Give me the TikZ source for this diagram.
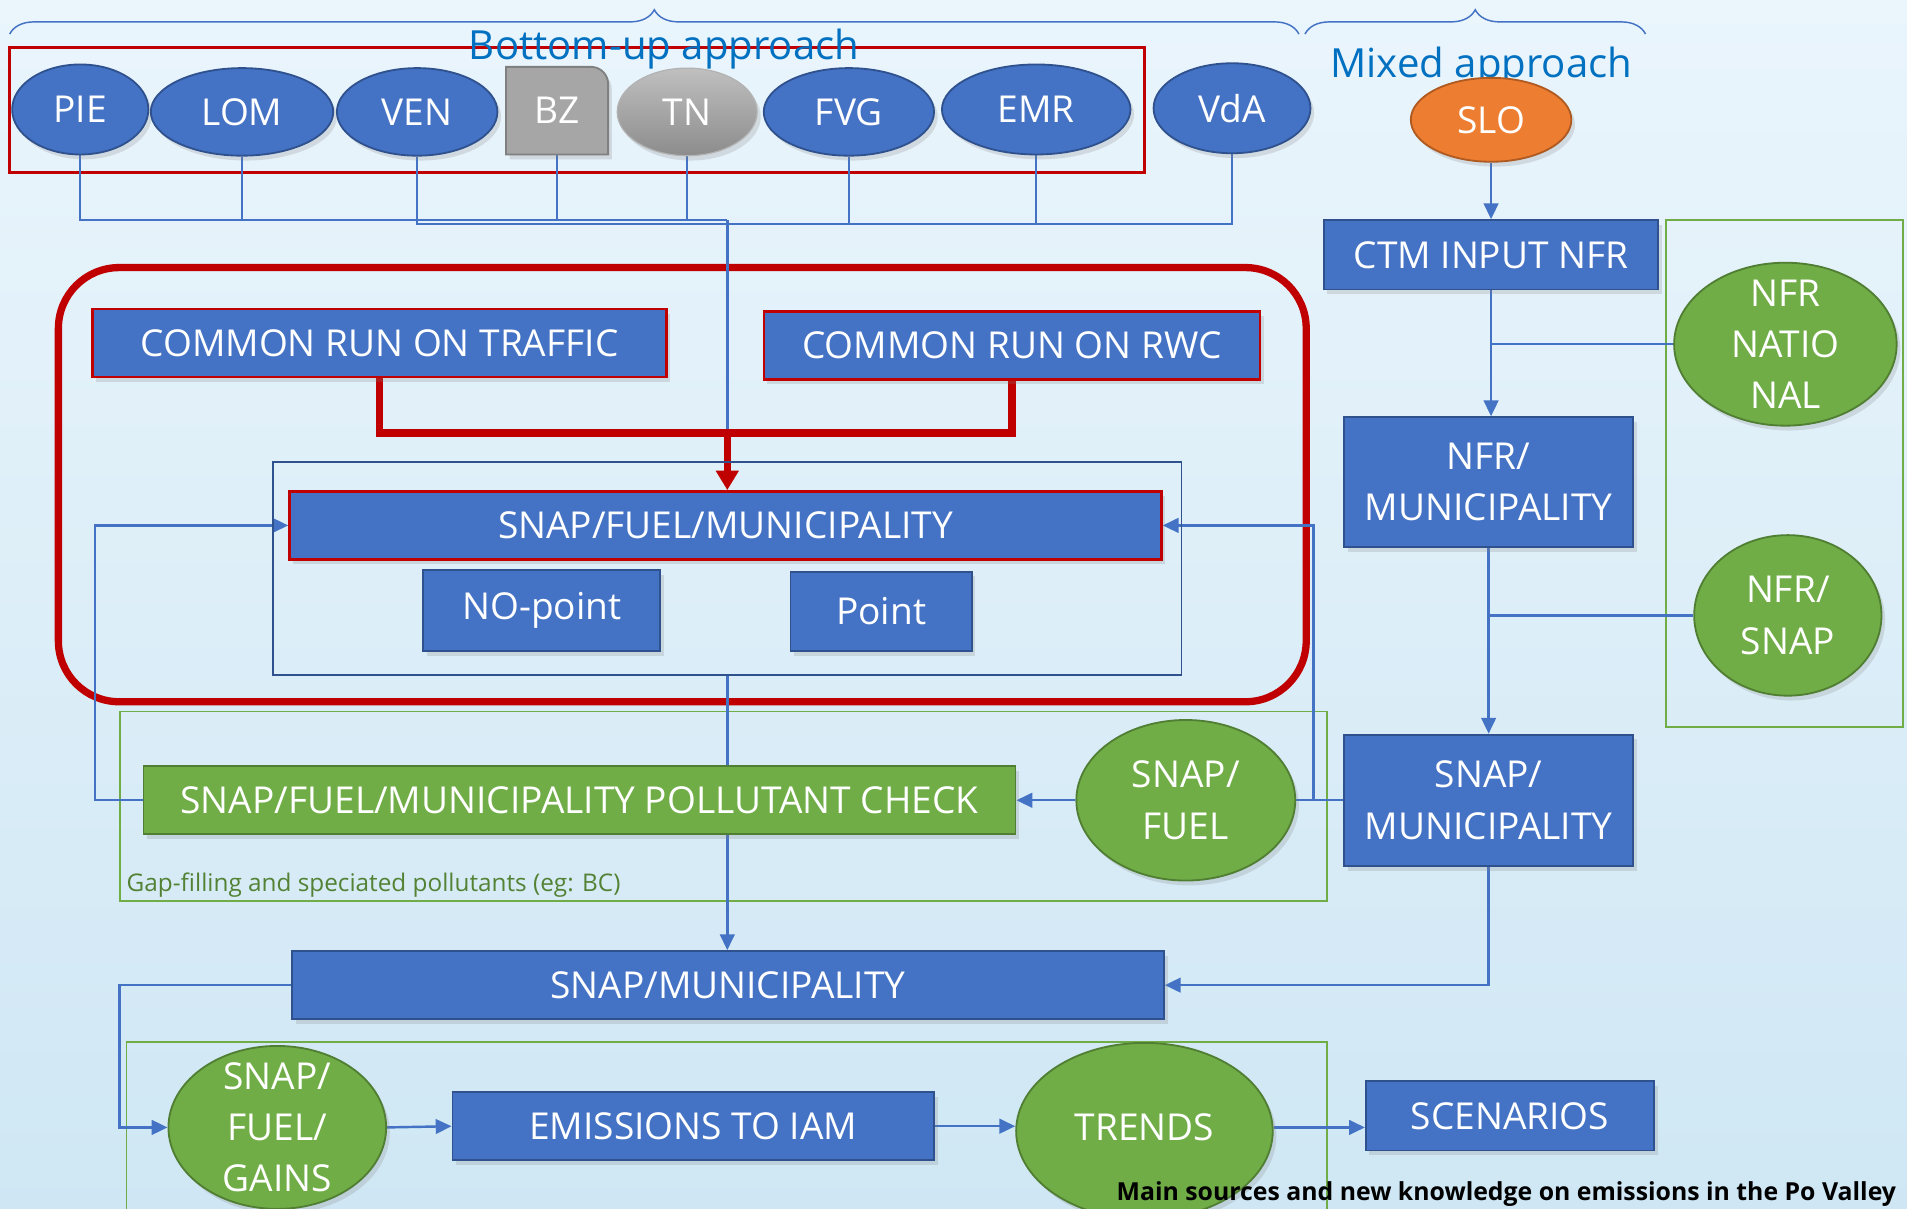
\documentclass[tikz,border=0pt]{standalone}
\usepackage{fontspec}
\setmainfont{Open Sans}
\usetikzlibrary{shapes.geometric, arrows.meta, shadows, decorations.pathreplacing, calc}
\definecolor{bfill}{HTML}{4472C4}
\definecolor{bdraw}{HTML}{2F528F}
\definecolor{gfill}{HTML}{70AD47}
\definecolor{gdraw}{HTML}{507E32}
\definecolor{dred}{HTML}{C00000}
\definecolor{ofill}{HTML}{ED7D31}
\definecolor{odraw}{HTML}{AE5A21}
\definecolor{ttl}{HTML}{0070C0}
\definecolor{gtxt}{HTML}{548235}
\definecolor{bgtop}{HTML}{EAF5FC}
\definecolor{bgbot}{HTML}{CFE7F4}
\pgfdeclarelayer{back}
\pgfdeclarelayer{lines}
\pgfsetlayers{back,lines,main}
\tikzset{
 shad/.style={drop shadow={shadow xshift=3pt, shadow yshift=-4pt, opacity=0.22}},
 box/.style={rectangle, fill=bfill, draw=bdraw, line width=1.5pt, text=white, inner sep=0pt, font=\fontsize{30.5}{42}\selectfont, align=center, shad},
 rbox/.style={box, draw=dred, line width=2pt},
 gbox/.style={box, fill=gfill, draw=gdraw},
 bell/.style={ellipse, fill=bfill, draw=bdraw, line width=1.5pt, inner sep=0pt, shad},
 gell/.style={bell, fill=gfill, draw=gdraw},
 oell/.style={bell, fill=ofill, draw=odraw},
 lbl/.style={text=white, inner sep=0pt, align=center, font=\fontsize{30.5}{42}\selectfont},
 conn/.style={draw=bfill, line width=2pt},
 arr/.style={conn, -{Triangle[length=13pt, width=12pt]}},
 redln/.style={draw=dred, line width=6pt},
 shln/.style={draw=black, opacity=0.3, line width=6pt, shift={(3,4)}},
 grp/.style={draw=gfill, line width=1.5pt},
 brc/.style={draw=bfill, line width=1.2pt, decorate, decoration={brace, amplitude=20pt}},
}
\begin{document}
\begin{tikzpicture}[x=1pt, y=-1pt]
\useasboundingbox (0,0) rectangle (1568,994);
\begin{pgfonlayer}{back}
\shade[top color=bgtop, bottom color=bgbot] (0,0) rectangle (1568,994);
\draw[grp] (99,585) rectangle (1091,741);
\draw[grp] (104,857) rectangle (1091,1010);
\draw[grp] (1370,181) rectangle (1565,598);
\draw[dred, line width=2.5pt] (8,39) rectangle (941,142);
\draw[dred, line width=6pt, rounded corners=50pt] (48,220) rectangle (1074,577);
\draw[brc] (8,28) -- (1068,28);
\draw[brc] (1073,28) -- (1353,28);
\end{pgfonlayer}

% top row
\node[bell, minimum width=112pt, minimum height=74pt] (pie) at (66,90) {};
\node[lbl] at (pie) {PIE};
\node[bell, minimum width=150pt, minimum height=72pt] (lom) at (199,92) {};
\node[lbl] at (lom) {LOM};
\node[bell, minimum width=132pt, minimum height=72pt] (ven) at (343,92) {};
\node[lbl] at (ven) {VEN};
\draw[fill=black!35, draw=black!50, line width=1.5pt, shad] (416,55) -- (486,55) arc[start angle=-90, end angle=0, radius=14] -- (500,127) -- (416,127) -- cycle;
\node[lbl, rectangle, minimum width=84pt, minimum height=72pt] (bz) at (458,91) {BZ};
\node[ellipse, inner sep=0pt, minimum width=115pt, minimum height=72pt, top color=black!25, bottom color=black!45, draw=black!30, line width=1pt, shad] (tn) at (565,92) {};
\node[lbl] at (tn) {TN};
\node[bell, minimum width=140pt, minimum height=72pt] (fvg) at (698,92) {};
\node[lbl] at (fvg) {FVG};
\node[bell, minimum width=155pt, minimum height=74pt] (emr) at (852,90) {};
\node[lbl] at (emr) {EMR};
\node[bell, minimum width=129pt, minimum height=74pt] (vda) at (1013,89) {};
\node[lbl] at (vda) {VdA};

\node[text=ttl, font=\fontsize{33}{40}\selectfont, inner sep=0pt, anchor=base] (bu) at (546,49) {Bottom-up approach};
\node[text=ttl, font=\fontsize{33}{40}\selectfont, inner sep=0pt, anchor=base] (mx) at (1218,64) {Mixed approach};

% central block
\node[rbox, minimum width=472pt, minimum height=56pt] (crt) at (312,282) {COMMON RUN ON TRAFFIC};
\node[rbox, minimum width=408pt, minimum height=56pt] (crw) at (832,284) {COMMON RUN ON RWC};
\node[draw=bdraw, line width=1.5pt, minimum width=747pt, minimum height=175pt, inner sep=0pt] (inner) at (598,467.5) {};
\node[rbox, minimum width=717pt, minimum height=56pt] (sfm) at (596.5,432) {SNAP/FUEL/MUNICIPALITY};
\node[box, minimum width=195pt, minimum height=66pt] (nop) at (445.5,502) {NO-point};
\node[box, minimum width=149pt, minimum height=65pt] (pt) at (724.5,502.5) {Point};

\node[gbox, minimum width=717pt, minimum height=56pt] (pck) at (476.5,658) {SNAP/FUEL/MUNICIPALITY POLLUTANT CHECK};
\node[gell, minimum width=180pt, minimum height=132pt] (sfu) at (975,658) {};
\node[lbl] at (sfu) {SNAP/\\FUEL};
\node[anchor=base west, text=gtxt, font=\fontsize{20}{24}\selectfont, inner sep=0pt] (gap) at (104,733) {Gap-filling and speciated pollutants (eg: BC)};

\node[box, minimum width=717pt, minimum height=56pt] (smun) at (598.5,810) {SNAP/MUNICIPALITY};

% bottom row
\node[gell, minimum width=179pt, minimum height=134pt] (sfg) at (228,927) {};
\node[lbl] at (sfg) {SNAP/\\FUEL/\\GAINS};
\node[box, minimum width=396pt, minimum height=56pt] (emi) at (570,926) {EMISSIONS TO IAM};
\node[gell, minimum width=211pt, minimum height=145pt] (trd) at (941,930) {};
\node[lbl] at (941,927) {TRENDS};
\node[box, minimum width=237pt, minimum height=57pt] (scn) at (1241.5,917.5) {SCENARIOS};

% right column
\node[oell, minimum width=132pt, minimum height=69pt] (slo) at (1226,98.5) {};
\node[lbl] at (slo) {SLO};
\node[box, minimum width=275pt, minimum height=57pt] (ctm) at (1226,209.5) {CTM INPUT NFR};
\node[gell, minimum width=183pt, minimum height=134pt] (nfn) at (1468,283) {};
\node[lbl] at (nfn) {NFR\\NATIO\\NAL};
\node[box, minimum width=238pt, minimum height=107pt] (nfm) at (1224,396.5) {NFR/\\MUNICIPALITY};
\node[gell, minimum width=154pt, minimum height=132pt] (nfs) at (1470,506) {};
\node[lbl] at (nfs) {NFR/\\SNAP};
\node[box, minimum width=238pt, minimum height=108pt] (smr) at (1224,658) {SNAP/\\MUNICIPALITY};

\node[anchor=base west, font=\bfseries\fontsize{20.4}{25}\selectfont, inner sep=0pt] (foot) at (918,987) {Main sources and new knowledge on emissions in the Po Valley};

% connectors
\begin{pgfonlayer}{lines}
\coordinate (xj) at (598,181);
\coordinate (xk) at (598,184);
\coordinate (rj) at (598,356);
\coordinate (rj2) at (1080,658);
\draw[conn] (pie.south) |- (xj);
\draw[conn] (lom.south) -- (lom.south |- xj);
\draw[conn] (bz.south) -- (bz.south |- xj);
\draw[conn] (tn.south) -- (tn.south |- xj);
\draw[conn] (ven.south) |- (xk) -| (vda.south);
\draw[conn] (fvg.south) -- (fvg.south |- xk);
\draw[conn] (emr.south) -- (emr.south |- xk);
\draw[shln, line width=2.5pt] (xj) -- (rj);
\draw[conn, line width=2.5pt] (xj) -- (rj);
\draw[shln] (crt.south) |- (rj) -| (crw.south);
\draw[redln] (crt.south) |- (rj) -| (crw.south);
\draw[redln, -{Triangle[length=16pt, width=18pt]}] (rj) -- (rj |- sfm.north);
\draw[arr] (inner.south) -- (inner.south |- smun.north);
\draw[arr] (pck.west) -- ++(-39,0) |- (sfm.west);
\draw[conn] (smr.west) -- (sfu.east);
\draw[arr] (rj2) |- (sfm.east);
\draw[arr] (sfu.west) -- (pck.east);
\draw[arr] (slo.south) -- (ctm.north);
\draw[arr] (ctm.south) -- (ctm.south |- nfm.north);
\draw[conn] (nfn.west) -- (ctm.south |- nfn.west);
\draw[arr] (nfm.south) -- (smr.north);
\draw[conn] (nfs.west) -- (nfm.south |- nfs.west);
\draw[arr] (smr.south) |- (smun.east);
\draw[arr] (smun.west) -- ++(-141,0) |- (sfg.west);
\draw[arr] (sfg.east) -- (emi.west);
\draw[arr] (emi.east) -- (emi.east -| trd.west);
\draw[arr] (trd.east |- 0,927) -- (scn.west |- 0,927);
\end{pgfonlayer}
\end{tikzpicture}
\end{document}
